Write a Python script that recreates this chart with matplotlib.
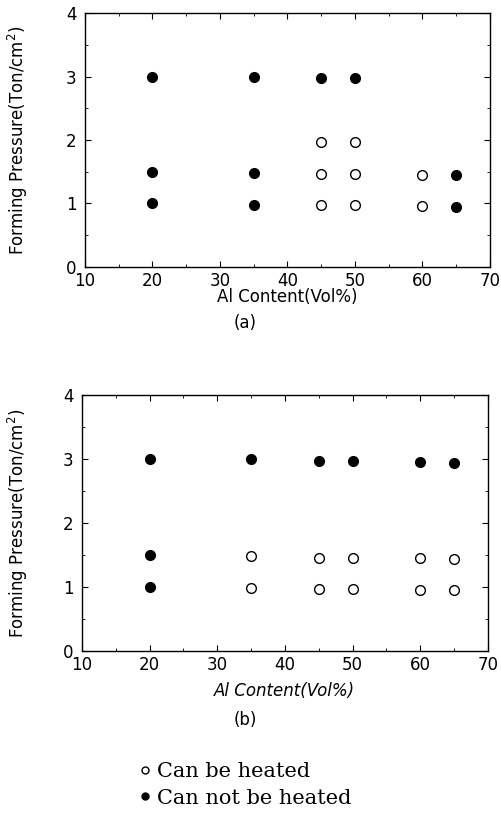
import numpy as np
import matplotlib.pyplot as plt
from matplotlib.lines import Line2D
from matplotlib.ticker import MultipleLocator

# (a) datos
a_lleno_x = [20, 35, 45, 50, 20, 35, 65, 20, 35, 65]
a_lleno_y = [3.0, 3.0, 2.97, 2.97, 1.5, 1.48, 1.45, 1.0, 0.98, 0.95]
a_vacio_x = [45, 50, 45, 50, 60, 45, 50, 60]
a_vacio_y = [1.97, 1.97, 1.47, 1.47, 1.45, 0.97, 0.97, 0.96]

# (b)
b_lleno_x = [20, 35, 45, 50, 60, 65, 20, 20]
b_lleno_y = [3.0, 3.0, 2.97, 2.97, 2.95, 2.94, 1.5, 1.0]
b_vacio_x = [35, 45, 50, 60, 65, 35, 45, 50, 60, 65]
b_vacio_y = [1.48, 1.46, 1.46, 1.45, 1.44, 0.98, 0.97, 0.97, 0.96, 0.95]

xticks = [10, 20, 30, 40, 50, 60, 70]
yticks = [0, 1, 2, 3, 4]

fig = plt.figure(figsize=(5.02, 8.21), dpi=100)
ax1 = fig.add_axes([0.169, 0.675, 0.807, 0.309])
ax2 = fig.add_axes([0.163, 0.207, 0.809, 0.312])

def preparar(ax, lx, ly, vx, vy, italic, xpad, ypad):
    ax.plot(lx, ly, 'o', color='black', markersize=7, linestyle='none')
    ax.plot(vx, vy, 'o', markerfacecolor='white', markeredgecolor='black',
            markeredgewidth=1.0, markersize=7, linestyle='none')
    ax.set_xlim(10, 70)
    ax.set_ylim(0, 4)
    ax.set_xticks(xticks)
    ax.set_yticks(yticks)
    ax.xaxis.set_minor_locator(MultipleLocator(5))
    ax.yaxis.set_minor_locator(MultipleLocator(0.5))
    ax.tick_params(which='both', direction='in', top=True, right=True, labelsize=12)
    ax.tick_params(which='major', length=4)
    ax.tick_params(which='minor', length=2)
    ax.tick_params(axis='y', pad=6)
    for s in ax.spines.values():
        s.set_linewidth(1.0)
    ax.set_ylabel('Forming Pressure(Ton/cm$^2$)', fontsize=12, labelpad=ypad)
    ax.set_xlabel('Al Content(Vol%)', fontsize=12, labelpad=xpad,
                  style='italic' if italic else 'normal')

preparar(ax1, a_lleno_x, a_lleno_y, a_vacio_x, a_vacio_y, False, -1, 26)
preparar(ax2, b_lleno_x, b_lleno_y, b_vacio_x, b_vacio_y, True, 6, 24)

fig.text(0.488, 1 - 323 / 821, '(a)', ha='center', va='center', fontsize=12)
fig.text(0.488, 1 - 720 / 821, '(b)', ha='center', va='center', fontsize=12)

handles = [
    Line2D([], [], marker='o', linestyle='none', markerfacecolor='white',
           markeredgecolor='black', markersize=5),
    Line2D([], [], marker='o', linestyle='none', color='black', markersize=5),
]
fig.legend(handles, ['Can be heated', 'Can not be heated'], loc='upper left',
           bbox_to_anchor=(0.258, 1 - 752 / 821), frameon=False,
           prop={'family': 'DejaVu Serif', 'size': 15}, handlelength=0.5,
           handletextpad=0.3, labelspacing=0.35, borderpad=0)

plt.savefig('out.png', dpi=100)
